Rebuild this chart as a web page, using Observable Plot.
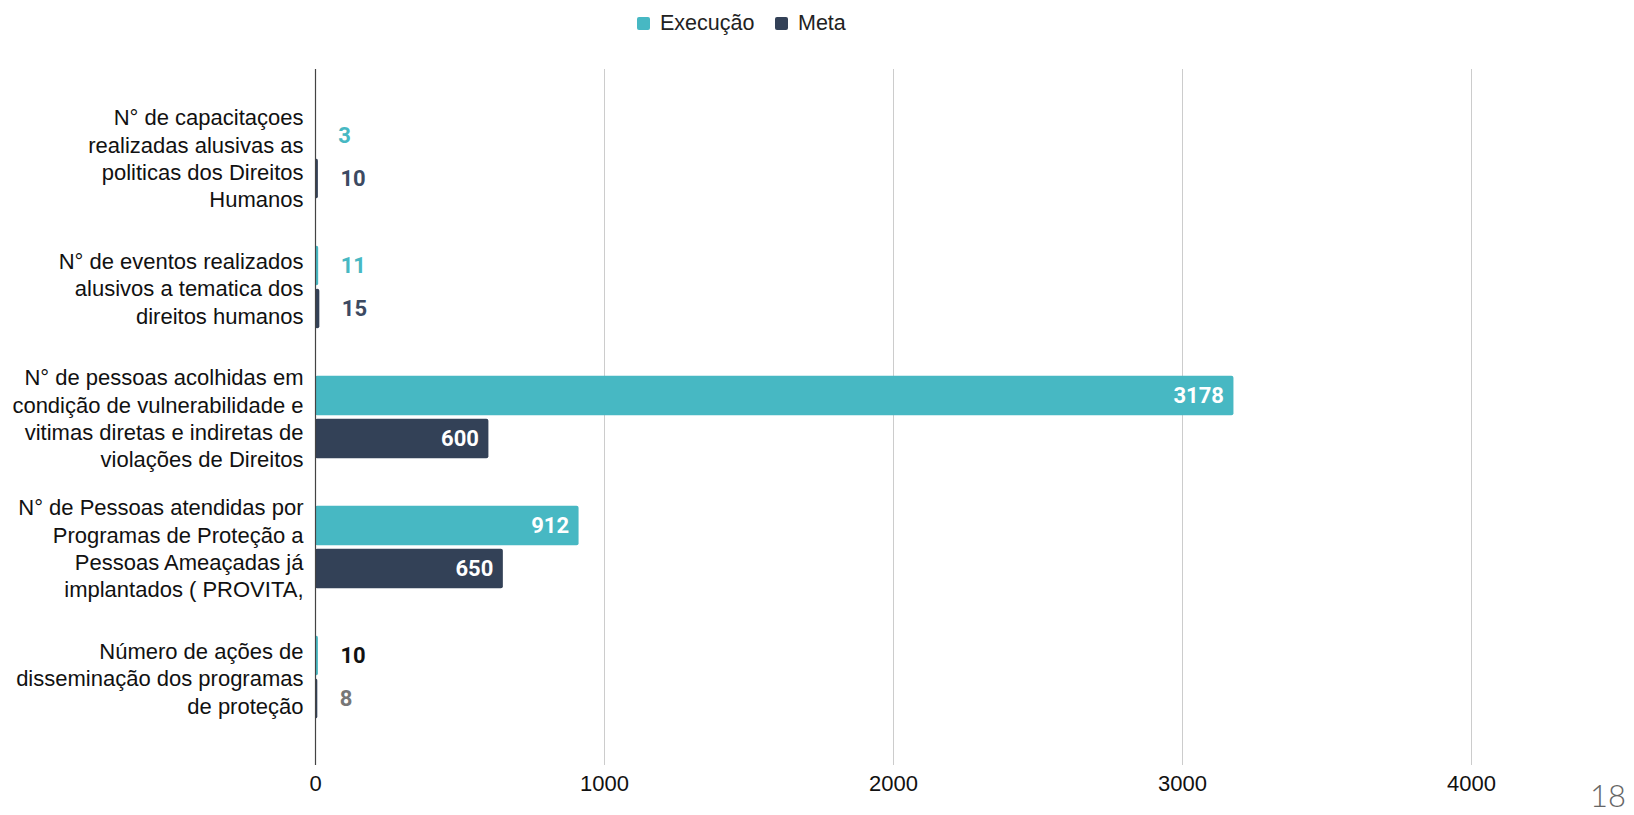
<!DOCTYPE html>
<html>
<head>
<meta charset="utf-8">
<script src="https://cdn.jsdelivr.net/npm/d3@7"></script>
<script src="https://cdn.jsdelivr.net/npm/@observablehq/plot@0.6"></script>
<style>
  html, body { margin: 0; padding: 0; background: #fff; }
  #wrap { position: relative; width: 1634px; height: 815px; overflow: hidden; }
  #legend { position: relative; height: 45px; font-family: "Liberation Sans", Arial, sans-serif; font-size: 21.5px; color: #222; }
  .item { position: absolute; top: 11px; display: flex; align-items: center; }
  .sw { width: 13px; height: 13px; border-radius: 2px; margin-right: 10px; }
  #page { position: absolute; left: 1590px; top: 781px; line-height: 28px; font-family: "Lato", "Open Sans", sans-serif; font-weight: 300; font-size: 31px; color: #666; }
</style>
</head>
<body>
<div id="wrap">
  <div id="legend"></div>
  <div id="chart"></div>
  <div id="page">18</div>
</div>
<script>
// ---- data ----
const categories = [
  "N° de capacitaçoes\nrealizadas alusivas as\npoliticas dos Direitos\nHumanos",
  "N° de eventos realizados\nalusivos a tematica dos\ndireitos humanos",
  "N° de pessoas acolhidas em\ncondição de vulnerabilidade e\nvitimas diretas e indiretas de\nviolações de Direitos",
  "N° de Pessoas atendidas por\nProgramas de Proteção a\nPessoas Ameaçadas já\nimplantados ( PROVITA,",
  "Número de ações de\ndisseminação dos programas\nde proteção"
];
const execucao = [3, 11, 3178, 912, 10];
const meta = [10, 15, 600, 650, 8];
const seriesNames = ["Execução", "Meta"];
const xTicks = [0, 1000, 2000, 3000, 4000];

// ---- styles ----
const teal = "#47B8C3";
const navy = "#334157";
const font = "'Liberation Sans', Arial, sans-serif";
const valFont = "Roboto, 'Open Sans', sans-serif";

const rows = categories.map((c, i) => ({cat: c, i, exec: execucao[i], meta: meta[i]}));
const threshold = 300;

function outsideColor(series, i) {
  if (i === categories.length - 1) return series === "exec" ? "#111111" : "#777777";
  return series === "exec" ? teal : "#3c4a62";
}

// legend
const legend = document.getElementById("legend");
[[seriesNames[0], teal, 637], [seriesNames[1], navy, 775]].forEach(([name, col, left]) => {
  const d = document.createElement("div");
  d.className = "item";
  d.style.left = left + "px";
  d.innerHTML = `<span class="sw" style="background:${col}"></span><span>${name}</span>`;
  legend.appendChild(d);
});

const band = 130.5;
const half = band / 2;
const chart = Plot.plot({
  width: 1634,
  height: 770,
  marginLeft: 315,
  marginRight: 163,
  marginTop: 46,
  marginBottom: 72,
  style: {fontFamily: font, background: "#fff"},
  x: {domain: [0, 4000], axis: null},
  y: {domain: categories, axis: null, padding: 0},
  marks: [
    Plot.ruleX(xTicks.slice(1), {stroke: "#cccccc", strokeWidth: 1, insetTop: -22, insetBottom: -22}),
    Plot.barX(rows, {x: "exec", y: "cat", fill: teal, insetTop: half - 41.5, insetBottom: half + 1.5, rx: 2}),
    Plot.barX(rows, {x: "meta", y: "cat", fill: navy, insetTop: half + 1.5, insetBottom: half - 41.5, rx: 2}),
    Plot.ruleX([0], {stroke: "#444", strokeWidth: 1.2, insetTop: -22, insetBottom: -22}),
    // value labels - execução
    Plot.text(rows.filter(d => d.exec >= threshold), {x: "exec", y: "cat", text: d => String(d.exec), dy: -21.5, dx: -10, textAnchor: "end", fill: "#fff", fontWeight: "bold", fontSize: 22, fontFamily: valFont}),
    Plot.text(rows.filter(d => d.exec < threshold), {x: "exec", y: "cat", text: d => String(d.exec), dy: -21.5, dx: 22, textAnchor: "start", fill: d => outsideColor("exec", d.i), fontWeight: "bold", fontSize: 22, fontFamily: valFont}),
    // value labels - meta
    Plot.text(rows.filter(d => d.meta >= threshold), {x: "meta", y: "cat", text: d => String(d.meta), dy: 21.5, dx: -10, textAnchor: "end", fill: "#fff", fontWeight: "bold", fontSize: 22, fontFamily: valFont}),
    Plot.text(rows.filter(d => d.meta < threshold), {x: "meta", y: "cat", text: d => String(d.meta), dy: 21.5, dx: 22, textAnchor: "start", fill: d => outsideColor("meta", d.i), fontWeight: "bold", fontSize: 22, fontFamily: valFont}),
    // category labels
    Plot.text(categories, {y: d => d, text: d => d, frameAnchor: "left", textAnchor: "end", dx: -12, fontSize: 22, lineHeight: 1.245, fill: "#111", fontFamily: font}),
    // x tick labels
    Plot.text(xTicks, {x: d => d, text: d => String(d), frameAnchor: "bottom", dy: 47, fontSize: 22, fill: "#111", fontFamily: font})
  ]
});
document.getElementById("chart").appendChild(chart);
</script>
</body>
</html>
